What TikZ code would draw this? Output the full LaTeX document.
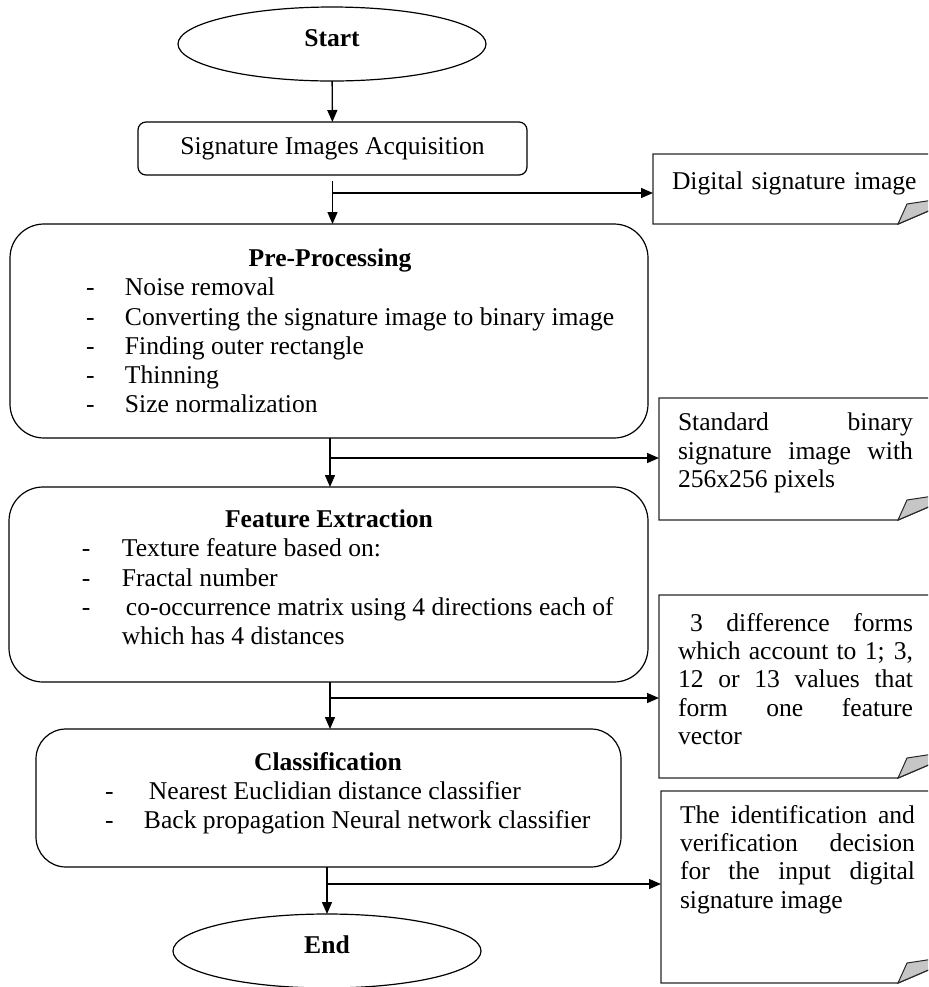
\documentclass[tikz,border=0pt]{standalone}
\usepackage{fontspec}
\setmainfont{Liberation Serif}
\usetikzlibrary{arrows.meta, positioning, shapes.geometric}

\begin{document}
\begin{tikzpicture}[x=0.5pt, y=-0.5pt,
    every node/.style={font=\fontsize{12.8}{14.6}\selectfont, inner sep=0pt, outer sep=0pt},
    terminal/.style={draw, ellipse, line width=0.6pt, minimum width=154pt, minimum height=37pt, text depth=6pt, font=\fontsize{12.8}{14.6}\selectfont\bfseries},
    stepbox/.style={draw, rounded corners=17pt, line width=0.6pt},
    notebox/.style={draw=none, anchor=north west},
    noteline/.style={draw=black!85, line width=0.7pt},
    fold/.style={draw=black!85, fill=gray!45, line width=0.5pt},
    notetext/.style={align=justify, text width=117.5pt, anchor=north west, font=\fontsize{12.8}{14.2}\selectfont},
    boxtext/.style={align=left, anchor=north west},
    flow/.style={line width=0.7pt, -{Triangle[length=6pt, width=5pt]}},
]
\clip (0,0) rectangle (928,987);

% main column
\node[terminal] (start) at (332,44) {Start};
\node[stepbox, rounded corners=4pt, minimum width=194.5pt, minimum height=26.5pt] (acq) at (332.5,148.5) {Signature Images Acquisition};

\node[stepbox, minimum width=319pt, minimum height=107pt] (pre) at (329,331) {};
\node[boxtext] (preText) at (86,249) {%
  \makebox[244pt]{\bfseries Pre-Processing}\\
  \makebox[19.5pt][l]{-}Noise removal\\
  \makebox[19.5pt][l]{-}Converting the signature image to binary image\\
  \makebox[19.5pt][l]{-}Finding outer rectangle\\
  \makebox[19.5pt][l]{-}Thinning\\
  \makebox[19.5pt][l]{-}Size normalization};

\node[stepbox, minimum width=319.5pt, minimum height=97.5pt] (feat) at (328.5,584.5) {};
\node[boxtext] (featText) at (82,510) {%
  \makebox[247pt]{\bfseries Feature Extraction}\\
  \makebox[20pt][l]{-}Texture feature based on:\\
  \makebox[20pt][l]{-}Fractal number\\
  \makebox[22pt][l]{-}co-occurrence matrix using 4 directions each of\\
  \hspace*{20pt}which has 4 distances};

\node[stepbox, rounded corners=15pt, minimum width=292.5pt, minimum height=69pt] (class) at (328.5,798) {};
\node[boxtext] (classText) at (105,752) {%
  \makebox[223pt]{\bfseries Classification}\\
  \makebox[22pt][l]{-}Nearest Euclidian distance classifier\\
  \makebox[19.5pt][l]{-}Back propagation Neural network classifier};

\node[terminal] (end) at (327,951) {End};

% outputs
\node[notebox, minimum width=143.5pt, minimum height=35pt] (out1) at (653,154) {};
\node[notebox, minimum width=140.5pt, minimum height=61pt] (out2) at (659,398) {};
\node[notebox, minimum width=140.5pt, minimum height=91.5pt] (out3) at (659,595) {};
\node[notebox, minimum width=139.5pt, minimum height=96pt] (out4) at (661,791) {};

\foreach \n in {out1,out2,out3,out4}{
  \draw[noteline] (\n.north west) -- (\n.north east) -- ([yshift=9pt]\n.south east)
    -- ([xshift=-21pt]\n.south east) -- (\n.south west) -- cycle;
  \filldraw[fold] ([xshift=-21pt]\n.south east) -- ([xshift=-16.5pt, yshift=10pt]\n.south east)
    -- ([yshift=12.5pt]\n.south east) -- ([yshift=9pt]\n.south east) -- cycle;
}

\node[notetext, align=left, text width=130pt] (t1) at ([xshift=9.5pt, yshift=-9pt]out1.north west) {Digital signature image};
\node[notetext] (t2) at ([xshift=9.5pt, yshift=-7.5pt]out2.north west) {Standard binary\linebreak signature image with\linebreak 256x256 pixels};
\node[notetext] (t3) at ([xshift=9.5pt, yshift=-9pt]out3.north west) {\hspace*{6pt}3 difference forms\linebreak which account to 1; 3,\linebreak 12 or 13 values that\linebreak form one feature\linebreak vector};
\node[notetext] (t4) at ([xshift=9.5pt, yshift=-7pt]out4.north west) {The identification and\linebreak verification decision\linebreak for the input digital\linebreak signature image};

% connectors
\coordinate (j1) at (332.5,193);
\coordinate (j2) at (330,458);
\coordinate (j3) at (330,698);
\coordinate (j4) at (327,884);

\draw[flow] (start) -- (acq);
\draw[flow, shorten <=3pt] (acq.south -| j1) -- (pre.north -| j1);
\draw[flow] (j1) -- (j1 -| out1.west);
\draw[flow] (pre.south -| j2) -- (feat.north -| j2);
\draw[flow] (j2) -- (j2 -| out2.west);
\draw[flow] (feat.south -| j3) -- (class.north -| j3);
\draw[flow] (j3) -- (j3 -| out3.west);
\draw[flow] (class.south -| j4) -- (end.north -| j4);
\draw[flow] (j4) -- (j4 -| out4.west);

\end{tikzpicture}
\end{document}
